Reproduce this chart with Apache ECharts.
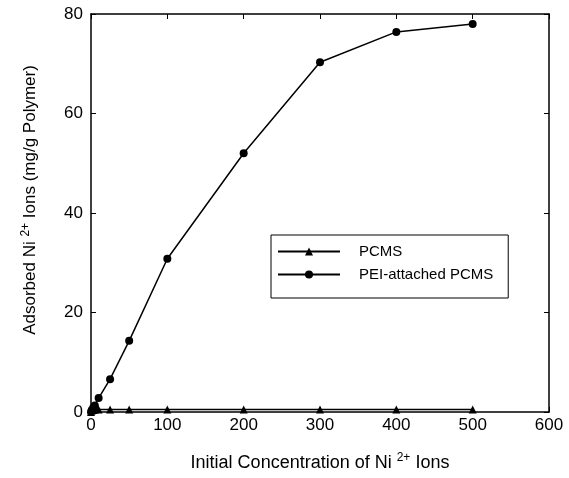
<!DOCTYPE html>
<html>
<head>
<meta charset="utf-8">
<script src="https://cdn.jsdelivr.net/npm/echarts@6/dist/echarts.min.js"></script>
</head>
<body style="margin:0;background:#fff">
<div id="chart" style="width:569px;height:478px"></div>
<script>
let concentration = [0, 1, 3, 5, 10, 25, 50, 100, 200, 300, 400, 500];
let pcms = [0, 0.3, 0.4, 0.5, 0.5, 0.5, 0.5, 0.5, 0.5, 0.5, 0.5, 0.5];
let peiPcms = [0, 0.4, 0.9, 1.3, 2.8, 6.6, 14.3, 30.8, 52, 70.3, 76.4, 78];
let xTicks = [0, 100, 200, 300, 400, 500, 600];
let yTicks = [0, 20, 40, 60, 80];

let font = 'Liberation Sans, Arial, sans-serif';
let pair = (ys) => concentration.map((x, i) => [x, ys[i]]);

let axisBase = {
    axisLine: {show: true, onZero: false, lineStyle: {color: '#000', width: 1.5}},
    axisTick: {show: true, inside: true, length: 5, lineStyle: {color: '#000'}},
    splitLine: {show: false}
};

let chart = echarts.init(document.getElementById('chart'));

let option = {
    animation: false,
    grid: {left: 91, right: 20, top: 14, bottom: 66},
    legend: {
        orient: 'vertical',
        left: 271, top: 235,
        padding: [9, 15, 16, 6],
        itemGap: 8,
        itemWidth: 62, itemHeight: 10,
        borderColor: '#000', borderWidth: 1,
        textStyle: {fontFamily: font, fontSize: 15, color: '#000', padding: [0, 0, 0, 14]},
        data: ['PCMS', 'PEI-attached PCMS']
    },
    xAxis: [
        Object.assign({
            type: 'value', min: xTicks[0], max: xTicks[xTicks.length - 1], interval: 100,
            name: '{n|Initial Concentration of Ni }{s|2+}{n| Ions}',
            nameLocation: 'middle', nameGap: 40,
            nameTextStyle: {rich: {
                n: {fontFamily: font, fontSize: 18, color: '#000'},
                s: {fontFamily: font, fontSize: 12, color: '#000', verticalAlign: 'bottom', padding: [0, 0, 10, 0]}
            }},
            axisLabel: {fontFamily: font, fontSize: 17, color: '#000', margin: 5}
        }, axisBase),
        Object.assign({
            type: 'value', position: 'top', min: xTicks[0], max: xTicks[xTicks.length - 1], interval: 100,
            axisLabel: {show: false}
        }, axisBase)
    ],
    yAxis: [
        Object.assign({
            type: 'value', min: yTicks[0], max: yTicks[yTicks.length - 1], interval: 20,
            name: '{n|Adsorbed Ni }{s|2+}{n| Ions (mg/g Polymer)}',
            nameLocation: 'middle', nameGap: 50,
            nameTextStyle: {padding: [0, 0, 0, 26], rich: {
                n: {fontFamily: font, fontSize: 17, color: '#000'},
                s: {fontFamily: font, fontSize: 12, color: '#000', verticalAlign: 'bottom', padding: [0, 0, 9, 0]}
            }},
            axisLabel: {fontFamily: font, fontSize: 17, color: '#000', margin: 8}
        }, axisBase),
        Object.assign({
            type: 'value', position: 'right', min: yTicks[0], max: yTicks[yTicks.length - 1], interval: 20,
            axisLabel: {show: false}
        }, axisBase)
    ],
    series: [
        {
            name: 'PCMS', type: 'line', data: pair(pcms),
            symbol: 'triangle', symbolSize: 8,
            lineStyle: {color: '#000', width: 1.5},
            itemStyle: {color: '#000'}
        },
        {
            name: 'PEI-attached PCMS', type: 'line', data: pair(peiPcms),
            symbol: 'circle', symbolSize: 8,
            lineStyle: {color: '#000', width: 1.5},
            itemStyle: {color: '#000'}
        }
    ]
};

chart.setOption(option);
</script>
</body>
</html>
